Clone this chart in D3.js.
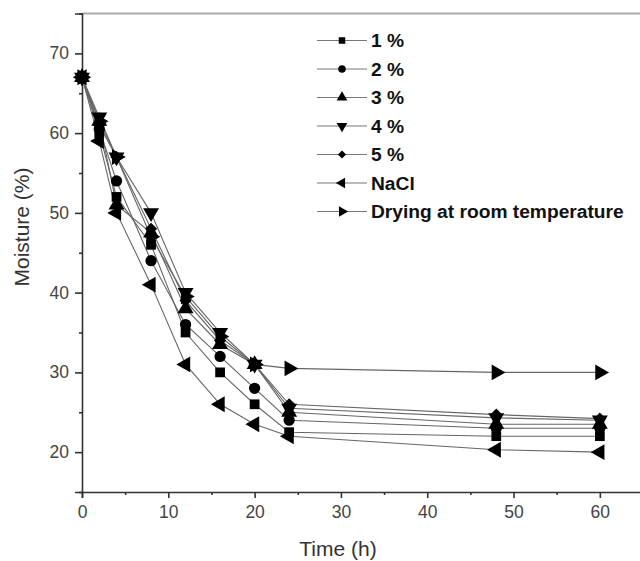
<!DOCTYPE html>
<html>
<head>
<meta charset="utf-8">
<script src="https://cdn.jsdelivr.net/npm/d3@7/dist/d3.min.js"></script>
<style>
  html, body { margin: 0; padding: 0; background: #fff; }
  svg { display: block; }
</style>
</head>
<body>
<svg id="chart" width="640" height="561"></svg>
<script>
// Sampling times (h)
const times = [0, 2, 4, 8, 12, 16, 20, 24, 48, 60];

// Moisture content (%) for each treatment
const salt1 = [67, 60, 52, 46, 35, 30, 26, 22.5, 22, 22];
const salt2 = [67, 60.5, 54, 44, 36, 32, 28, 24, 23, 23];
const salt3 = [67, 61.5, 51, 47.5, 38, 33.5, 31, 25, 23.5, 23.5];
const salt4 = [67, 62, 57, 50, 40, 35, 31, 25.5, 24.3, 24];
const salt5 = [67, 61, 57, 48, 39, 34, 31, 26, 24.7, 24.2];
const nacl = [67, 59, 50, 41, 31, 26, 23.5, 22, 20.3, 20];
const roomDry = [67, 61.5, 57, 47, 39.5, 34.5, 31, 30.5, 30, 30];

const seriesNames = ["1 %", "2 %", "3 %", "4 %", "5 %", "NaCl", "Drying at room temperature"];
const seriesValues = [salt1, salt2, salt3, salt4, salt5, nacl, roomDry];
const seriesShapes = ["square", "circle", "up", "down", "diamond", "left", "right"];

const xTicks = [0, 10, 20, 30, 40, 50, 60];
const xMinor = [5, 15, 25, 35, 45, 55, 65];
const yTicks = [20, 30, 40, 50, 60, 70];
const yMinor = [15, 25, 35, 45, 55, 65, 75];

const svg = d3.select("#chart");
const font = "'Liberation Sans', Arial, Helvetica, sans-serif";

const x = d3.scaleLinear().domain([0, 65]).range([82, 643]);
const y = d3.scaleLinear().domain([15, 75]).range([492, 13.5]);

// Marker path generator for the Origin-style symbols
function markerPath(shape, s) {
  const tri = d3.symbol().type(d3.symbolTriangle).size(s * 1.1)();
  switch (shape) {
    case "square": return { d: d3.symbol().type(d3.symbolSquare).size(s * 0.95)(), rot: 0 };
    case "circle": return { d: d3.symbol().type(d3.symbolCircle).size(s)(), rot: 0 };
    case "diamond": return { d: d3.symbol().type(d3.symbolSquare).size(s * 0.75)(), rot: 45 };
    case "up": return { d: tri, rot: 0 };
    case "down": return { d: tri, rot: 180 };
    case "left": return { d: tri, rot: -90 };
    case "right": return { d: tri, rot: 90 };
  }
}

// Frame: top border
svg.append("line")
  .attr("x1", x(0)).attr("x2", x(65))
  .attr("y1", y(75)).attr("y2", y(75))
  .attr("stroke", "#aaa").attr("stroke-width", 2);

// X axis
const gx = svg.append("g").attr("transform", `translate(0,${y(15)})`);
gx.call(d3.axisBottom(x).tickValues(xTicks).tickSize(6).tickPadding(8).tickFormat(d3.format("d")));
gx.append("g").call(d3.axisBottom(x).tickValues(xMinor).tickSize(3).tickFormat(""));
gx.selectAll(".domain").attr("stroke", "#333").attr("stroke-width", 1.6);
gx.selectAll(".tick line").attr("stroke", "#333").attr("stroke-width", 1.6);
gx.selectAll("text").attr("font-family", font).attr("font-size", 17.5).attr("fill", "#444");
gx.selectAll("g > g > .domain").remove();

// Y axis
const gy = svg.append("g").attr("transform", `translate(${x(0)},0)`);
gy.call(d3.axisLeft(y).tickValues(yTicks).tickSize(7).tickPadding(6).tickFormat(d3.format("d")));
gy.append("g").call(d3.axisLeft(y).tickValues(yMinor).tickSize(3).tickFormat(""));
gy.selectAll(".domain").attr("stroke", "#333").attr("stroke-width", 1.6);
gy.selectAll(".tick line").attr("stroke", "#333").attr("stroke-width", 1.6);
gy.selectAll("text").attr("font-family", font).attr("font-size", 17.5).attr("fill", "#444");
gy.selectAll("g > g > .domain").remove();

// Axis titles
svg.append("text")
  .attr("x", 338).attr("y", 556)
  .attr("text-anchor", "middle")
  .attr("font-family", font).attr("font-size", 21).attr("fill", "#333")
  .text("Time (h)");
svg.append("text")
  .attr("transform", "translate(29,227) rotate(-90)")
  .attr("text-anchor", "middle")
  .attr("font-family", font).attr("font-size", 21).attr("fill", "#333")
  .text("Moisture (%)");

// Curves
const line = d3.line().x(d => x(d[0])).y(d => y(d[1]));
seriesValues.forEach((vals, i) => {
  const pts = times.map((t, j) => [t, vals[j]]);
  svg.append("path")
    .attr("d", line(pts))
    .attr("fill", "none")
    .attr("stroke", "#666")
    .attr("stroke-width", 1.1);
});
seriesValues.forEach((vals, i) => {
  const m = markerPath(seriesShapes[i], 100);
  svg.append("g").selectAll("path")
    .data(times.map((t, j) => [t, vals[j]]))
    .join("path")
    .attr("d", m.d)
    .attr("transform", d => `translate(${x(d[0])},${y(d[1])}) rotate(${m.rot})`)
    .attr("fill", "#000");
});

// Legend
const legend = svg.append("g");
seriesNames.forEach((name, i) => {
  const ly = 40.5 + i * 28.5;
  legend.append("line")
    .attr("x1", 317).attr("x2", 367).attr("y1", ly).attr("y2", ly)
    .attr("stroke", "#777").attr("stroke-width", 1.1);
  const m = markerPath(seriesShapes[i], 45);
  legend.append("path")
    .attr("d", m.d)
    .attr("transform", `translate(342,${ly}) rotate(${m.rot})`)
    .attr("fill", "#000");
  legend.append("text")
    .attr("x", 371).attr("y", ly).attr("dy", "0.36em")
    .attr("font-family", font).attr("font-size", 19.2).attr("font-weight", "bold")
    .attr("fill", "#111")
    .text(name);
});
</script>
</body>
</html>
